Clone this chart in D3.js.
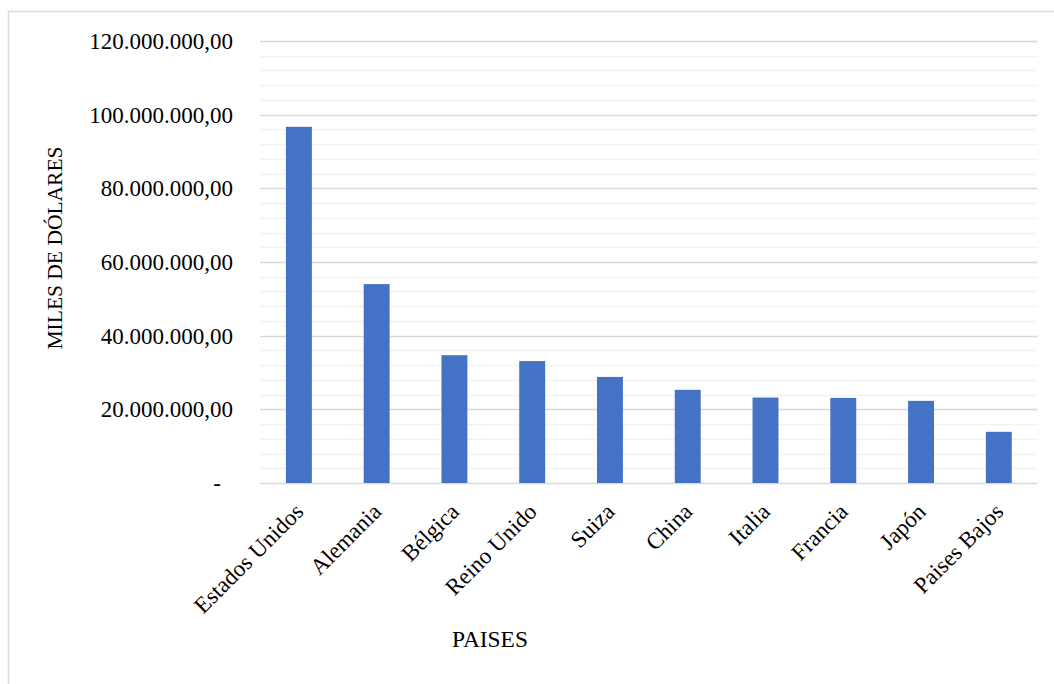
<!DOCTYPE html>
<html><head><meta charset="utf-8">
<script src="https://cdn.jsdelivr.net/npm/d3@7"></script>
<style>body{margin:0;background:#fff}svg{display:block}</style>
</head><body>
<svg id="c" width="1054" height="684" font-family="'Liberation Serif', 'Times New Roman', serif"></svg>
<script>
const categories = ["Estados Unidos","Alemania","Bélgica","Reino Unido","Suiza","China","Italia","Francia","Japón","Paises Bajos"];
const values = [96700000,54000000,34700000,33100000,28800000,25300000,23200000,23100000,22300000,13900000];
const yTicks = [0,20000000,40000000,60000000,80000000,100000000,120000000];
const yTickLabels = ["-","20.000.000,00","40.000.000,00","60.000.000,00","80.000.000,00","100.000.000,00","120.000.000,00"];
const minorStep = 4000000;
const yTitle = "MILES DE DÓLARES";
const xTitle = "PAISES";

const svg = d3.select("#c");
const L = 260, R = 1037.7, T = 41, B = 483;
svg.append("rect").attr("x",8.5).attr("y",11.5).attr("width",1100).attr("height",1100)
  .attr("fill","none").attr("stroke","#d9d9d9").attr("stroke-width",1.5);

const y = d3.scaleLinear().domain([0,120000000]).range([B,T]);
const x = d3.scaleBand().domain(categories).range([L,R]).paddingInner(2/3).paddingOuter(1/3);

const minor = d3.range(0,120000001,minorStep).filter(v=>v%20000000!==0);
svg.append("g").selectAll("line").data(minor).join("line")
  .attr("x1",L).attr("x2",R).attr("y1",d=>Math.round(y(d))+0.5).attr("y2",d=>Math.round(y(d))+0.5)
  .attr("stroke","#f2f2f2").attr("stroke-width",1.5);
svg.append("g").selectAll("line").data(yTicks).join("line")
  .attr("x1",L).attr("x2",R).attr("y1",d=>Math.round(y(d))+0.5).attr("y2",d=>Math.round(y(d))+0.5)
  .attr("stroke","#d9d9d9").attr("stroke-width",1.5);

svg.append("g").selectAll("rect").data(values).join("rect")
  .attr("x",(d,i)=>x(categories[i])).attr("width",x.bandwidth())
  .attr("y",d=>y(d)).attr("height",d=>B-y(d)).attr("fill","#4472c4");

svg.append("g").selectAll("text").data(yTicks).join("text")
  .attr("x",(d,i)=>i===0?221:233).attr("y",d=>y(d)).attr("dy","0.35em")
  .attr("text-anchor","end").attr("font-size",23).attr("fill","#000").text((d,i)=>yTickLabels[i]);

svg.append("g").selectAll("text").data(categories).join("text")
  .attr("transform",d=>`translate(${x(d)+x.bandwidth()/2+6},${B+30}) rotate(-45)`)
  .attr("text-anchor","end").attr("font-size",23).attr("fill","#000").text(d=>d);

svg.append("text").attr("transform","translate(62,248) rotate(-90)")
  .attr("text-anchor","middle").attr("font-size",21.5).attr("fill","#000").text(yTitle);
svg.append("text").attr("x",490).attr("y",647).attr("text-anchor","middle")
  .attr("font-size",23.4).attr("fill","#000").text(xTitle);
</script></body></html>
